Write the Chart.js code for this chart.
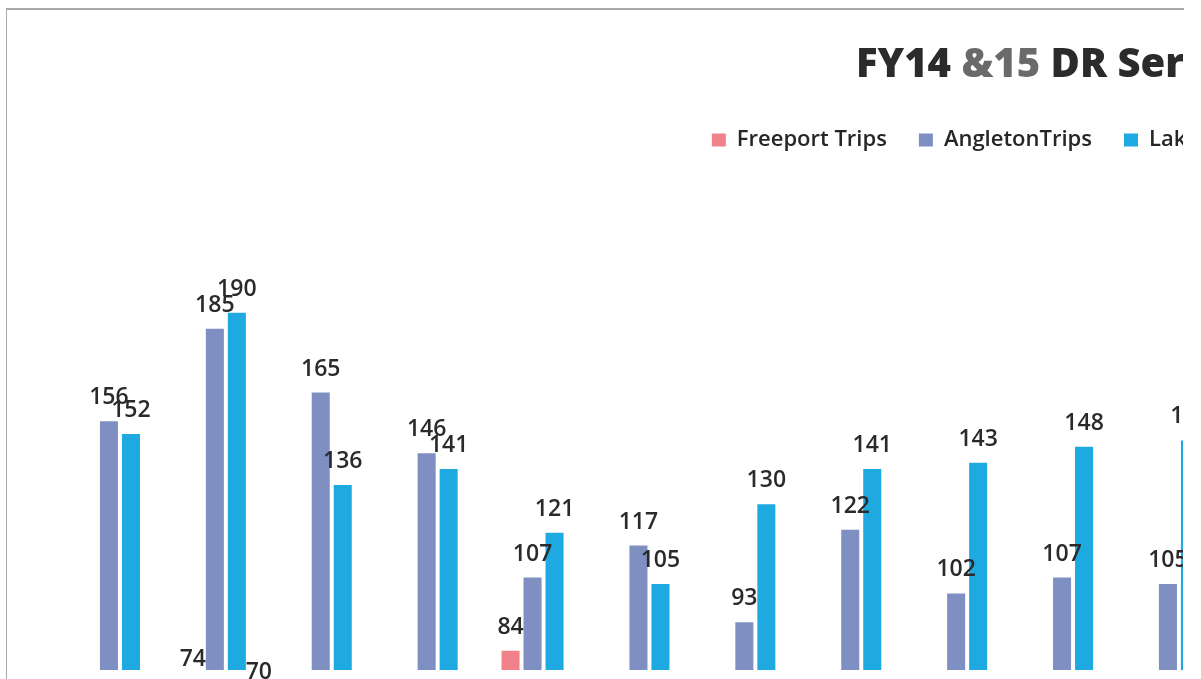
<!DOCTYPE html>
<html>
<head>
<meta charset="utf-8">
<script src="https://cdn.jsdelivr.net/npm/chart.js@4"></script>
<style>
  html, body { margin: 0; padding: 0; background: #fff; overflow: hidden; }
  #clip { position: absolute; left: 0; top: 0; width: 1183px; height: 679px; overflow: hidden; }
  #frame { position: absolute; left: 6px; top: 8px; width: 1177px; height: 680px;
           border-top: 2px solid #a8a8a8; border-left: 1px solid #a8a8a8; pointer-events: none; }
</style>
</head>
<body>
<div id="clip">
  <canvas id="tripsChart" width="2252" height="680"></canvas>
</div>
<div id="frame"></div>
<script>
// ===== Data =====
const months = ['Oct-13', 'Nov-13', 'Dec-13', 'Jan-14', 'Feb-14', 'Mar-14', 'Apr-14', 'May-14',
  'Jun-14', 'Jul-14', 'Aug-14', 'Sep-14', 'Oct-14', 'Nov-14', 'Dec-14', 'Jan-15',
  'Feb-15', 'Mar-15', 'Apr-15', 'May-15'];
const freeportTrips = [null, 74, null, null, 84, null, null, null, null, null, null];
const angletonTrips = [156, 185, 165, 146, 107, 117, 93, 122, 102, 107, 105];
const lakeJacksonTrips = [152, 190, 136, 141, 121, 105, 130, 141, 143, 148, 150];
const sweenyTrips = [null, 70, null, null, null, null, null, null, null, null, null];

// title has "&15" in a lighter grey
const titleParts = [
  { text: 'FY14 ', color: '#2b2b2b' },
  { text: '&15', color: '#6a6a6a' },
  { text: ' DR Service Trips', color: '#2b2b2b' }
];

const titlePlugin = {
  id: 'twoToneTitle',
  afterDraw(chart) {
    const ctx = chart.ctx;
    ctx.save();
    ctx.font = '800 40px "Open Sans"';
    ctx.textBaseline = 'alphabetic';
    ctx.textAlign = 'left';
    let x = 856;
    titleParts.forEach(p => {
      ctx.fillStyle = p.color;
      ctx.fillText(p.text, x, 77);
      x += ctx.measureText(p.text).width;
    });
    ctx.restore();
  }
};

// value labels above each bar
const valueLabels = {
  id: 'valueLabels',
  afterDatasetsDraw(chart) {
    const ctx = chart.ctx;
    ctx.save();
    ctx.font = '600 23px "Open Sans"';
    ctx.fillStyle = '#2a2a2a';
    ctx.textAlign = 'center';
    ctx.textBaseline = 'alphabetic';
    chart.data.datasets.forEach((ds, i) => {
      chart.getDatasetMeta(i).data.forEach((bar, j) => {
        const v = ds.data[j];
        if (v === null || v === undefined) return;
        ctx.fillText(String(v), bar.x, bar.y - 17);
      });
    });
    ctx.restore();
  }
};

const ctx = document.getElementById('tripsChart').getContext('2d');
new Chart(ctx, {
  type: 'bar',
  data: {
    labels: months,
    datasets: [
      { label: 'Freeport Trips', data: freeportTrips, backgroundColor: '#f2828a' },
      { label: 'AngletonTrips', data: angletonTrips, backgroundColor: '#7f8fc2' },
      { label: 'Lake Jackson Trips', data: lakeJacksonTrips, backgroundColor: '#1eaae0' },
      { label: 'Sweeny Trips', data: sweenyTrips, backgroundColor: '#a5a5a5' }
    ]
  },
  options: {
    responsive: false,
    animation: false,
    devicePixelRatio: 1,
    categoryPercentage: 0.831,
    barPercentage: 0.82,
    layout: { padding: { left: 67, right: 67, top: 97, bottom: 10 } },
    plugins: {
      title: { display: false },
      tooltip: { enabled: false },
      legend: {
        position: 'top',
        labels: {
          boxWidth: 14,
          boxHeight: 13,
          padding: 32,
          color: '#262626',
          font: { family: '"Open Sans"', size: 22, weight: '600' }
        }
      }
    },
    scales: {
      x: { display: false },
      y: { display: false, min: 78, max: 237.6 }
    }
  },
  plugins: [titlePlugin, valueLabels]
});
</script>
</body>
</html>
